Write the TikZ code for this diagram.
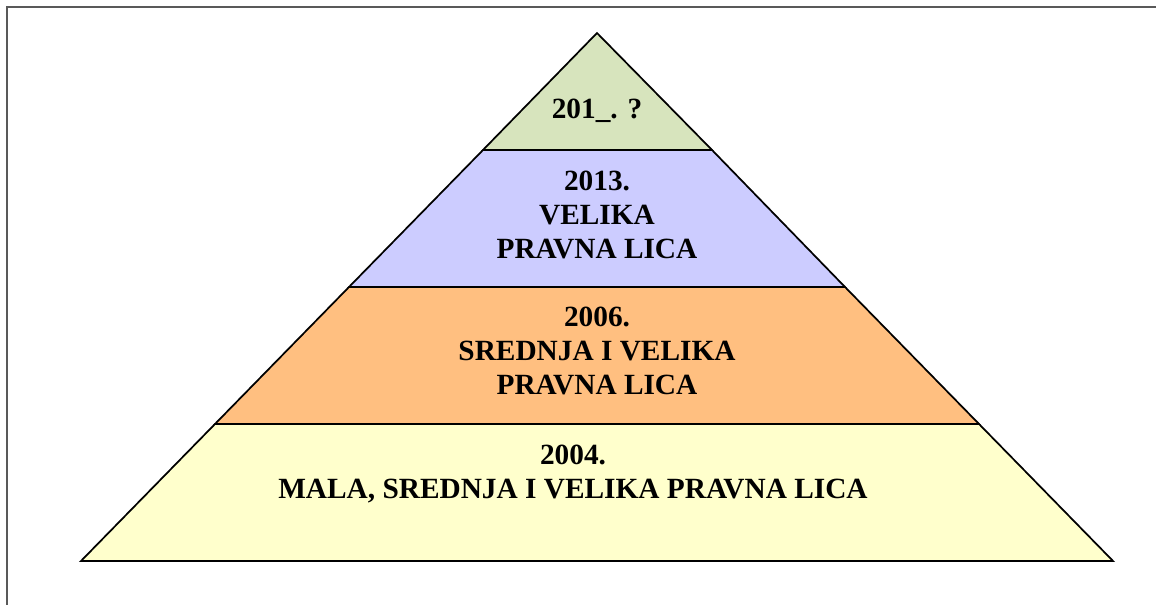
\documentclass[tikz,border=0pt]{standalone}
\usepackage{fontspec}
\setmainfont{Liberation Serif}

\definecolor{topgreen}{HTML}{D7E4BD}
\definecolor{lilac}{HTML}{CCCCFF}
\definecolor{apricot}{HTML}{FFBF80}
\definecolor{paleyellow}{HTML}{FFFFCC}

\begin{document}
\begin{tikzpicture}[x=0.75pt, y=-0.75pt,
  layer/.style={draw=black, line width=1.3pt, line join=miter},
  yeartext/.style={font=\bfseries\fontsize{22}{25.5}\selectfont, align=center, inner sep=0pt}]

\useasboundingbox (0,0) rectangle (1156,605);

% the frame, only top and left show
\draw[line width=1.5pt, black!65] (1156,7) -- (7,7) -- (7,605);

% corners of the pyramid
\coordinate (apex) at (597,33);
\coordinate (bl) at (81,561);
\coordinate (br) at (1113,561);

% where the layers meet the sides
\coordinate (al) at (483,150);
\coordinate (ar) at (712,150);
\coordinate (bbl) at (349,287);
\coordinate (bbr) at (845,287);
\coordinate (cl) at (215,424);
\coordinate (cr) at (979,424);

% the four layers, bottom up
\draw[layer, fill=paleyellow] (cl) -- (cr) -- (br) -- (bl) -- cycle;
\draw[layer, fill=apricot] (bbl) -- (bbr) -- (cr) -- (cl) -- cycle;
\draw[layer, fill=lilac] (al) -- (ar) -- (bbr) -- (bbl) -- cycle;
\draw[layer, fill=topgreen] (apex) -- (ar) -- (al) -- cycle;

% the years
\node[yeartext] (top) at (597,111) {201\_. ?};
\node[yeartext] (big) at (597,215) {2013.\\VELIKA\\PRAVNA LICA};
\node[yeartext] (mid) at (597,351) {2006.\\SREDNJA I VELIKA\\PRAVNA LICA};
\node[yeartext] (all) at (573,474) {2004.\\MALA, SREDNJA I VELIKA PRAVNA LICA};

\end{tikzpicture}
\end{document}
